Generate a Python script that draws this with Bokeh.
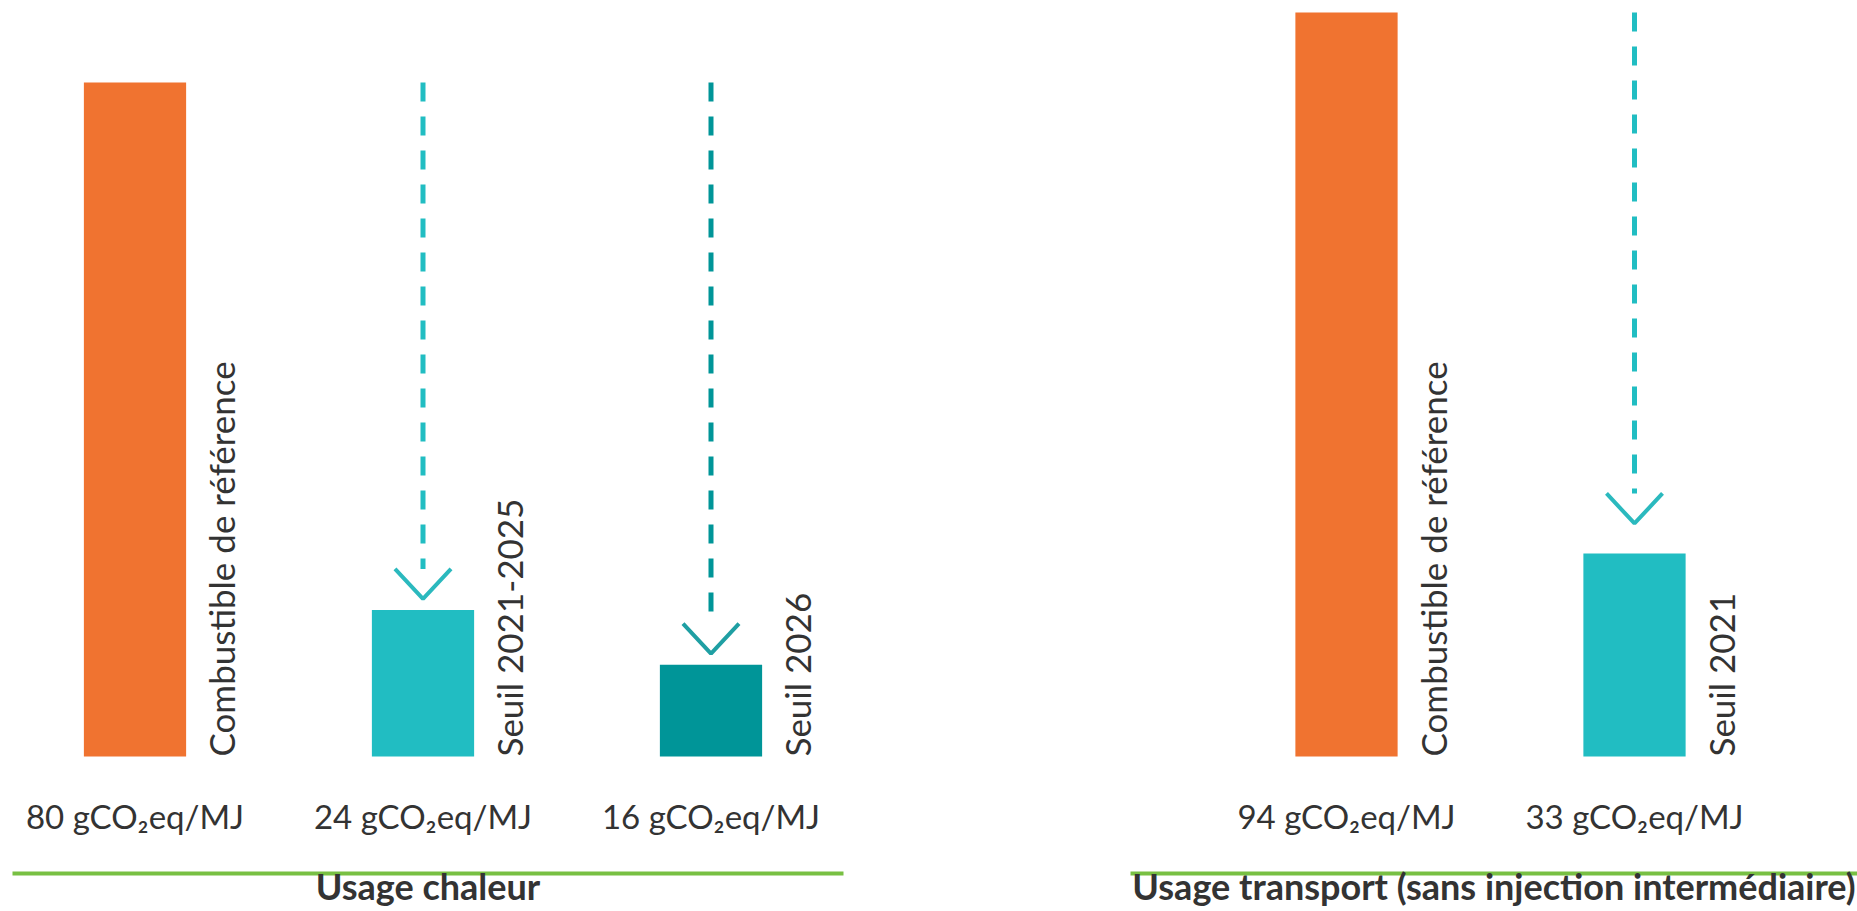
import math
from bokeh.plotting import figure
from bokeh.layouts import row
from bokeh.models import Range1d, FixedTicker, ColumnDataSource
from bokeh.core.properties import value
from bokeh.embed import file_html
from bokeh.resources import INLINE

# ---------------- data ----------------
UNIT = "gCO\u2082eq/MJ"

heat_title = "Usage chaleur"
heat_labels = ["Combustible de référence", "Seuil  2021-2025", "Seuil  2026"]
heat_values = [80, 24, 16]
# the source bars are schematic (not to scale): drawn heights
heat_heights = [80, 17.4, 10.9]
heat_colors = ["#F07330", "#21BDC2", "#009598"]

transport_title = "Usage transport (sans injection intermédiaire)"
transport_labels = ["Combustible de référence", "Seuil  2021"]
transport_values = [94, 33]
transport_heights = [88.3, 24.1]
transport_colors = ["#F07330", "#21BDC2"]

# arrow styles (dashed shaft colour, chevron colour) for each threshold bar
heat_arrow_colors = [None, ("#21BDC2", "#2BB9BE"), ("#009598", "#1F9FA3")]
transport_arrow_colors = [None, ("#21BDC2", "#2BB9BE")]

# ---------------- styling ----------------
FONT = "Lato"
TEXT = "#333333"
GREEN = "#78C043"
PX = 8.425            # pixels per value unit
FRAME_H = 873
BASE = 756            # baseline (pixels from top)
BAR_W = 0.355
SPACING = 288.0       # pixels per category step


def panel(labels, values, heights, colors, arrows, title, width, bl, br,
          first_center_px, arrow_gap_px):
    n = len(labels)
    frame_w = width - bl - br
    x0 = -(first_center_px - bl) / SPACING
    x1 = x0 + frame_w / SPACING
    p = figure(width=width, height=911, output_backend="svg", toolbar_location=None,
               x_range=Range1d(x0, x1),
               y_range=Range1d(-(FRAME_H - BASE) / PX, BASE / PX),
               min_border_left=bl, min_border_right=br, min_border_top=0,
               min_border_bottom=38)
    p.outline_line_color = None
    p.grid.visible = False
    p.yaxis.visible = False
    p.background_fill_color = "white"
    p.border_fill_color = "white"

    ax = p.xaxis[0]
    ax.ticker = FixedTicker(ticks=[])
    ax.major_tick_out = 0
    ax.major_tick_in = 0
    ax.minor_tick_out = 0
    ax.minor_tick_in = 0
    ax.major_label_standoff = 0
    ax.axis_line_color = GREEN
    ax.axis_line_width = 4
    ax.axis_label = title
    ax.axis_label_standoff = -10
    ax.axis_label_text_font = FONT
    ax.axis_label_text_font_style = "bold"
    ax.axis_label_text_font_size = "36px"
    ax.axis_label_text_color = TEXT

    xs = list(range(n))
    src = ColumnDataSource(dict(
        x=xs, top=heights, color=colors,
        right=[x + BAR_W / 2 for x in xs],
        label=labels,
        vlabel=[f"{v} {UNIT}" for v in values],
    ))
    p.vbar(x="x", top="top", bottom=0, width=BAR_W, fill_color="color",
           line_color=None, source=src)

    # rotated category labels
    p.text(x="right", y=0, text="label", source=src, angle=math.pi / 2,
           x_offset=35, text_align="left", text_baseline="alphabetic",
           text_font=value(FONT), text_font_size="35px", text_color=TEXT)

    # value labels under the bars
    p.text(x="x", y=-(815 - BASE) / PX, text="vlabel", source=src,
           text_align="center", text_baseline="alphabetic",
           text_font=value(FONT), text_font_size="33px", text_color=TEXT)

    # dashed arrows from the reference level down to each threshold
    ref = heights[0]
    half_w = 28 / SPACING
    depth = 30 / PX
    for i, ac in enumerate(arrows):
        if ac is None:
            continue
        shaft_c, head_c = ac
        tip = heights[i] + arrow_gap_px / PX
        p.segment(x0=[xs[i]], y0=[ref], x1=[xs[i]], y1=[tip + depth],
                  line_color=shaft_c, line_width=5, line_dash="19 15")
        p.line(x=[xs[i] - half_w, xs[i], xs[i] + half_w],
               y=[tip + depth, tip, tip + depth],
               line_color=head_c, line_width=4)
    return p


left = panel(heat_labels, heat_values, heat_heights, heat_colors, heat_arrow_colors,
             heat_title, width=900, bl=12, br=57, first_center_px=134.5,
             arrow_gap_px=11)
right = panel(transport_labels, transport_values, transport_heights, transport_colors,
              transport_arrow_colors, transport_title, width=957, bl=230, br=0,
              first_center_px=1346 - 900, arrow_gap_px=30)

layout = row(left, right, spacing=0)
open("out.html", "w").write(file_html(layout, INLINE))
